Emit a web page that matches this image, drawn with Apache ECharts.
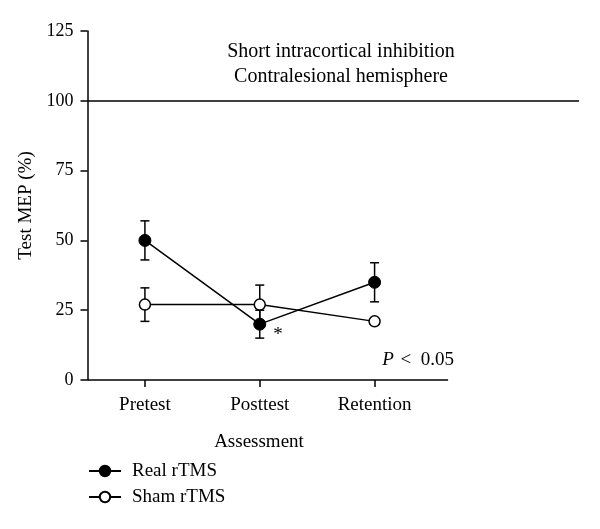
<!DOCTYPE html>
<html>
<head>
<meta charset="utf-8">
<script src="https://cdn.jsdelivr.net/npm/echarts@6/dist/echarts.min.js"></script>
<style>html,body{margin:0;padding:0;background:#fff}#c{width:600px;height:529px}</style>
</head>
<body>
<div id="c"></div>
<script>
var categories = ['Pretest', 'Posttest', 'Retention'];
var categoryPos = [1, 2, 3];
var realMean = [50, 20, 35];
var realErr = [7, 5, 7];
var shamMean = [27, 27, 21];
var shamErr = [6, 7, 0];
var yTicks = [0, 25, 50, 75, 100, 125];
var referenceValue = 100;

var FONT = 'Liberation Serif';
var chart = echarts.init(document.getElementById('c'));

function pairs(means) { return means.map(function (v, i) { return [categoryPos[i], v]; }); }
function errData(means, errs) {
  return means.map(function (v, i) { return [categoryPos[i], v - errs[i], v + errs[i]]; })
    .filter(function (d, i) { return errs[i] > 0; });
}
function errRender(params, api) {
  var x = api.value(0);
  var lo = api.coord([x, api.value(1)]);
  var hi = api.coord([x, api.value(2)]);
  var w = 4.5;
  var st = { stroke: '#000', lineWidth: 1.5 };
  return {
    type: 'group',
    children: [
      { type: 'line', shape: { x1: lo[0], y1: lo[1], x2: hi[0], y2: hi[1] }, style: st },
      { type: 'line', shape: { x1: lo[0] - w, y1: lo[1], x2: lo[0] + w, y2: lo[1] }, style: st },
      { type: 'line', shape: { x1: hi[0] - w, y1: hi[1], x2: hi[0] + w, y2: hi[1] }, style: st }
    ]
  };
}

var option = {
  animation: false,
  backgroundColor: '#fff',
  textStyle: { fontFamily: FONT, color: '#000' },
  grid: { left: 87.5, right: 21, top: 31, bottom: 149, containLabel: false },
  xAxis: {
    type: 'value', min: 0.5, max: 4.78,
    axisLine: { show: false },
    splitLine: { show: false },
    axisTick: { show: true, customValues: categoryPos, length: 7, lineStyle: { color: '#000', width: 1.5 } },
    axisLabel: {
      customValues: categoryPos, margin: 16, fontFamily: FONT, fontSize: 19, color: '#000',
      formatter: function (v) { return categories[categoryPos.indexOf(v)] || ''; }
    }
  },
  yAxis: {
    type: 'value', min: yTicks[0], max: yTicks[yTicks.length - 1], interval: 25,
    name: 'Test MEP (%)', nameLocation: 'middle', nameGap: 49, nameRotate: 90,
    nameTextStyle: { fontFamily: FONT, fontSize: 19, color: '#000' },
    axisLine: { show: true, lineStyle: { color: '#000', width: 1.5 } },
    axisTick: { show: true, length: 7, lineStyle: { color: '#000', width: 1.5 } },
    splitLine: { show: false },
    axisLabel: { margin: 14, fontFamily: FONT, fontSize: 18, color: '#000' }
  },
  legend: {
    orient: 'vertical', left: 83, top: 456, itemWidth: 32, itemHeight: 13, itemGap: 6,
    textStyle: { fontFamily: FONT, fontSize: 19, color: '#000', lineHeight: 20, padding: [0, 0, 0, 6] },
    data: ['Real rTMS', 'Sham rTMS']
  },
  graphic: [
    { type: 'text', x: 341, y: 52, style: { text: 'Short intracortical inhibition', font: '20px "Liberation Serif"', fill: '#000', textAlign: 'center', textVerticalAlign: 'middle' } },
    { type: 'text', x: 341, y: 77, style: { text: 'Contralesional hemisphere', font: '20px "Liberation Serif"', fill: '#000', textAlign: 'center', textVerticalAlign: 'middle' } },
    { type: 'text', x: 259, y: 442, style: { text: 'Assessment', font: '19px "Liberation Serif"', fill: '#000', textAlign: 'center', textVerticalAlign: 'middle' } },
    { type: 'text', x: 278, y: 335, style: { text: '*', font: '19px "Liberation Serif"', fill: '#000', textAlign: 'center', textVerticalAlign: 'middle' } },
    { type: 'text', x: 454, y: 360, style: { rich: { i: { fontStyle: 'italic', fontFamily: FONT, fontSize: 19 }, n: { fontFamily: FONT, fontSize: 19 } }, text: '{i|P}  {n|<  0.05}', fill: '#000', textAlign: 'right', textVerticalAlign: 'middle' } }
  ],
  series: [
    {
      type: 'custom', name: 'realErr', renderItem: errRender, data: errData(realMean, realErr),
      encode: { x: 0, y: [1, 2] }, z: 1, silent: true
    },
    {
      type: 'custom', name: 'shamErr', renderItem: errRender, data: errData(shamMean, shamErr),
      encode: { x: 0, y: [1, 2] }, z: 1, silent: true
    },
    {
      name: 'Real rTMS', type: 'line', data: pairs(realMean), z: 3,
      symbol: 'circle', symbolSize: 12,
      lineStyle: { color: '#000', width: 1.5 },
      itemStyle: { color: '#000', borderColor: '#000', borderWidth: 1 },
      markLine: {
        silent: true, symbol: 'none', label: { show: false },
        lineStyle: { color: '#000', width: 1.5, type: 'solid' },
        data: [
          [{ coord: [0.5, 0] }, { coord: [3.64, 0] }],
          [{ coord: [0.5, referenceValue] }, { coord: [4.78, referenceValue] }]
        ]
      }
    },
    {
      name: 'Sham rTMS', type: 'line', data: pairs(shamMean), z: 4,
      symbol: 'circle', symbolSize: 11,
      lineStyle: { color: '#000', width: 1.5 },
      itemStyle: { color: '#fff', borderColor: '#000', borderWidth: 1.5 }
    }
  ]
};
chart.setOption(option);
</script>
</body>
</html>
